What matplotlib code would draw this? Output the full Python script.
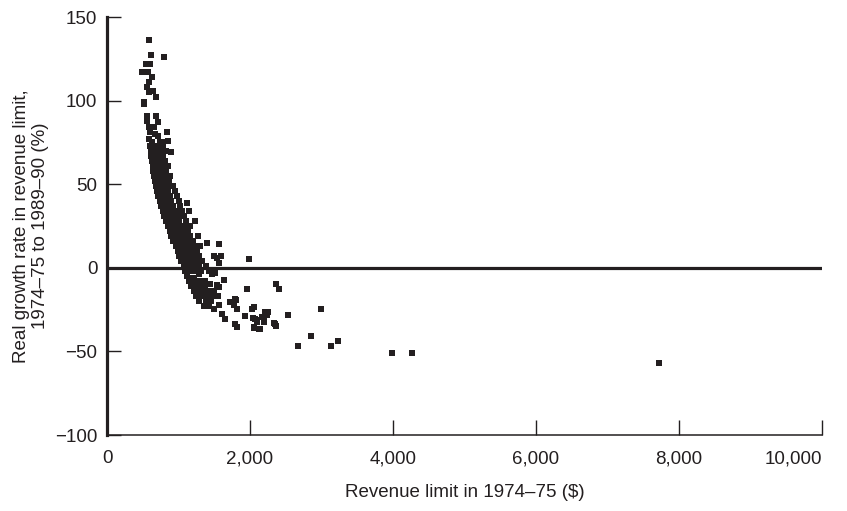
import matplotlib
matplotlib.use("Agg")
import matplotlib.pyplot as plt
from matplotlib.ticker import FuncFormatter

plt.rcParams['font.family'] = ['Liberation Sans', 'DejaVu Sans']

# Revenue limit in 1974-75 ($) and real growth rate (%)
rev_upper = [589, 617, 799, 547, 603, 495, 580, 627, 589, 556, 650, 589, 683, 524, 524,
             556, 683, 556, 711, 837, 767, 860, 589, 664, 603, 673, 711, 589, 627, 711, 743, 898]
grow_upper = [136, 127, 126, 122, 122, 117, 117, 114, 111, 108, 106, 105, 102, 99, 98,
              91, 91, 88, 87, 81, 75, 76, 84, 84, 81, 80, 79, 77, 75, 79, 75, 69]

rev_band = [600, 640, 680, 720, 780,
            610, 650, 700, 750, 820,
            620, 660, 690, 730, 790,
            630, 670, 710, 760, 810,
            640, 680, 720, 770, 850,
            650, 690, 740, 790, 830,
            660, 700, 750, 800, 880,
            670, 720, 770, 820, 870,
            690, 730, 780, 840, 920,
            700, 750, 800, 860, 950,
            720, 770, 820, 880, 980,
            740, 790, 840, 900, 1000, 1117,
            760, 810, 860, 930, 1020,
            780, 830, 890, 960, 1050, 1141,
            800, 860, 920, 990, 1080,
            830, 880, 940, 1010, 1100, 1234,
            850, 900, 960, 1040, 1094, 1160,
            880, 930, 990, 1060, 1130,
            900, 960, 1020, 1090, 1160, 1271,
            930, 990, 1050, 1120, 1200, 1398,
            960, 1020, 1080, 1150, 1230, 1300, 1571,
            990, 1050, 1110, 1180, 1260,
            1010, 1080, 1140, 1210, 1290, 1492, 1599,
            1040, 1110, 1170, 1240, 1330, 1538, 1992,
            1070, 1130, 1200, 1280, 1380, 1563,
            1090, 1160, 1230, 1310, 1420]
grow_band = [73, 73, 73, 73, 73,
             70, 70, 70, 70, 70,
             67, 67, 67, 67, 67,
             64, 64, 64, 64, 64,
             61, 61, 61, 61, 61,
             58, 58, 58, 58, 58,
             55, 55, 55, 55, 55,
             52, 52, 52, 52, 52,
             49, 49, 49, 49, 49,
             46, 46, 46, 46, 46,
             43, 43, 43, 43, 43,
             40, 40, 40, 40, 40, 39,
             37, 37, 37, 37, 37,
             34, 34, 34, 34, 34, 34,
             31, 31, 31, 31, 31,
             28, 28, 28, 28, 28, 28,
             25, 25, 25, 25, 25, 25,
             22, 22, 22, 22, 22,
             19, 19, 19, 19, 19, 19,
             16, 16, 16, 16, 16, 15,
             13, 13, 13, 13, 13, 13, 14,
             10, 10, 10, 10, 10,
             7, 7, 7, 7, 7, 7, 7,
             4, 4, 4, 4, 4, 6, 5,
             1, 1, 1, 1, 1, 3,
             -2, -2, -2, -2, -2]

rev_lower = [1120, 1164, 1211, 1281, 1468, 1515,
             1150, 1220, 1290, 1370, 1632,
             1180, 1260, 1304, 1374, 1445, 1538, 1563, 1959, 2370, 2403,
             1210, 1290, 1360, 1430, 1500,
             1250, 1330, 1400, 1470, 1550,
             1290, 1380, 1450, 1725, 1795, 1809,
             1350, 1430, 1563, 1772, 2062,
             1492, 1819, 2029, 2987, 2248, 2216,
             1609, 1935, 2525, 2239,
             1655, 2043, 2099, 2192, 2169, 2076,
             1795, 1819, 2202, 2332, 2370, 2356, 2099,
             2062, 2132, 2052, 2146,
             2857, 2669, 3128, 3230, 3983, 4264, 7723]
grow_lower = [-5, -6, -6, -4, -4, -3,
              -8, -8, -8, -8, -7.5,
              -11, -11, -10.5, -10.5, -9.5, -10.5, -11.5, -12.5, -9.7, -12.9,
              -14, -14, -14, -14, -14,
              -17, -17, -17, -17, -17,
              -20, -20, -20, -20.5, -18.5, -19,
              -23, -23, -22.4, -22.4, -23.3,
              -24.5, -24.5, -24.6, -24.5, -26.3, -26.4,
              -27.4, -28.8, -28.2, -28.4,
              -30.4, -30.2, -31.2, -30.2, -29.4, -30.4,
              -33.4, -35.4, -32.2, -33.2, -34.6, -33.4, -32.4,
              -36.2, -36.8, -35.4, -36.4,
              -40.6, -46.8, -46.8, -43.6, -50.8, -50.8, -57]

revenue = rev_upper + rev_band + rev_lower
growth = grow_upper + grow_band + grow_lower

x_ticks = [0, 2000, 4000, 6000, 8000, 10000]
y_ticks = [-100, -50, 0, 50, 100, 150]

ink = '#231f20'

fig = plt.figure(figsize=(8.47, 5.11), dpi=100)
ax = fig.add_axes([107/847, (511-435)/511, (822-107)/847, (435-17)/511])

ax.axhline(0, color=ink, lw=2.3, zorder=2)
ax.plot(revenue, growth, linestyle='none', marker='s', markersize=4.3,
        color=ink, markeredgewidth=0, zorder=3)

ax.set_xlim(0, 10000)
ax.set_ylim(-100, 150)
ax.set_xticks(x_ticks)
ax.set_yticks(y_ticks)
ax.xaxis.set_major_formatter(FuncFormatter(lambda v, p: f"{int(v):,}"))
ax.yaxis.set_major_formatter(FuncFormatter(lambda v, p: f"{int(v)}".replace('-', '\u2212')))

for s in ['top', 'right']:
    ax.spines[s].set_visible(False)
ax.spines['left'].set_linewidth(2.3)
ax.spines['left'].set_color(ink)
ax.spines['bottom'].set_linewidth(1.1)
ax.spines['bottom'].set_color(ink)

ax.tick_params(axis='x', direction='in', length=11, width=1.0, color=ink,
               labelsize=13.5, pad=11, labelcolor=ink)
ax.tick_params(axis='y', direction='in', length=10, width=1.0, color=ink,
               labelsize=13.5, pad=7, labelcolor=ink)

ax.set_xlabel('Revenue limit in 1974\u201375 ($)', fontsize=13.5, color=ink, labelpad=12)
ax.set_ylabel('Real growth rate in revenue limit,\n1974\u201375 to 1989\u201390 (%)',
              fontsize=13.5, color=ink, labelpad=4, linespacing=1.2,
              multialignment='center')

fig.canvas.draw()
ax.get_xticklabels()[-1].set_horizontalalignment('right')

fig.savefig('out.png', dpi=100)
